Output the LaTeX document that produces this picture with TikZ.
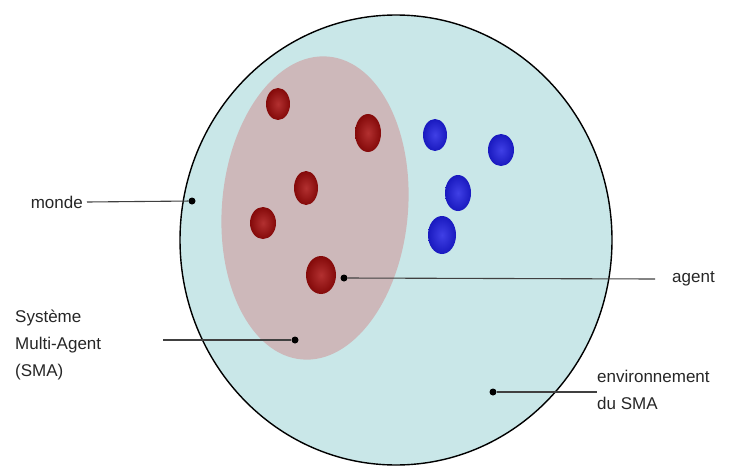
\documentclass[tikz,border=0pt]{standalone}
\usepackage{fontspec}
\setmainfont{Liberation Sans}
\usetikzlibrary{positioning}
\definecolor{mondefill}{RGB}{201,231,232}
\definecolor{smafill}{RGB}{205,184,186}
\definecolor{agentred}{RGB}{165,12,12}
\definecolor{agentblue}{RGB}{30,30,225}
\begin{document}
\begin{tikzpicture}[x=1pt, y=-1pt,
    dot/.style={circle, fill=black, inner sep=0pt, minimum size=7pt},
    lbl/.style={inner sep=0pt, font=\fontsize{17}{27}\selectfont, text=black!85, align=left},
    lead/.style={line width=1.1pt, black!75},
    redball/.style={inner color=agentred!85!white, outer color=agentred!80!black},
    blueball/.style={inner color=agentblue!85!white, outer color=agentblue!85!black}]
  \useasboundingbox (0,0) rectangle (730,468);
  % le monde
  \begin{scope}
    \clip (0,14) rectangle (730,468);
    \draw[fill=mondefill, line width=1.4pt] (396,240) ellipse (216 and 225);
  \end{scope}
  % le SMA
  \fill[smafill, rotate around={-5:(315,208)}] (315,208) ellipse (93 and 152);
  % agents
  \foreach \x/\y/\rx/\ry in {278/104/12/16, 368/133/13/19, 306/188/12/17, 263/223/13/16, 321/275/15/19}
    \shade[redball] (\x,\y) ellipse ({\rx} and {\ry});
  \foreach \x/\y/\rx/\ry in {435/135/12/16, 501/150/13/16, 458/193/13/18, 442/235/14/19}
    \shade[blueball] (\x,\y) ellipse ({\rx} and {\ry});
  % points et legendes
  \node[dot] (dmonde) at (192,201) {};
  \node[dot] (dagent) at (344,278) {};
  \node[dot] (dsma) at (295,340) {};
  \node[dot] (denv) at (493,392) {};
  \node[lbl, anchor=east] (lmonde) at (83,202) {monde};
  \node[lbl, anchor=west] (lagent) at (672,279) {agent};
  \node[lbl, anchor=west] (lsma) at (15,345) {Système\\Multi-Agent\\(SMA)};
  \node[lbl, anchor=north west] (lenv) at (597,370) {environnement\\du SMA};
  \coordinate (csma) at (163,340);
  \draw[lead] ([xshift=4pt]lmonde.east) -- (dmonde);
  \draw[lead] (dagent) -- ([xshift=-17pt]lagent.west);
  \draw[lead] (csma) -- (dsma);
  \draw[lead] (denv) -- (denv -| lenv.west);
\end{tikzpicture}
\end{document}
